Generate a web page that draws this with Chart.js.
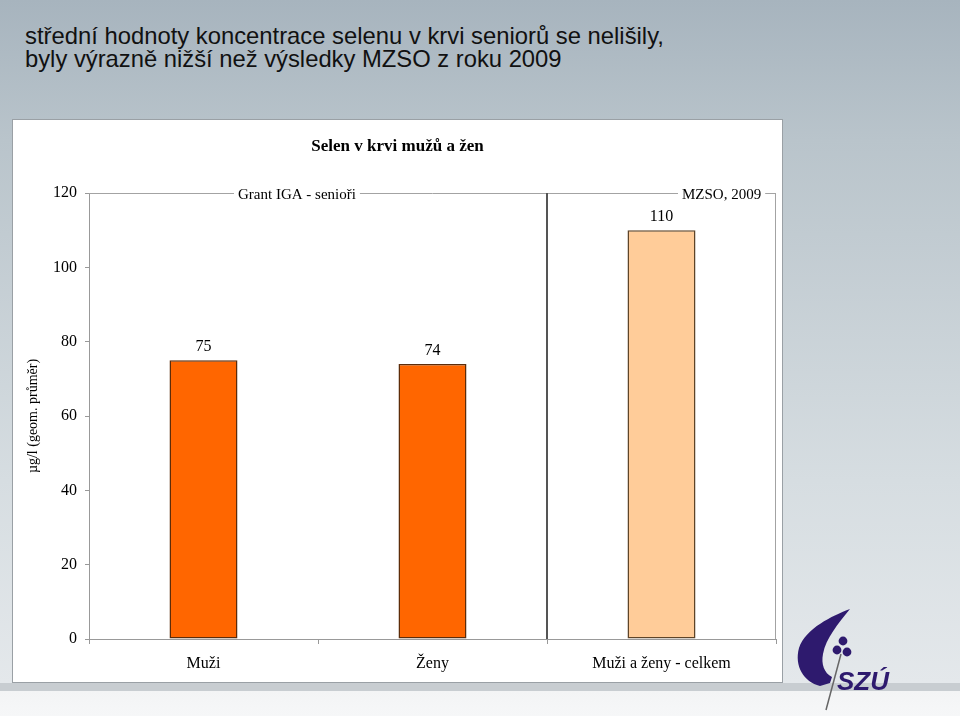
<!DOCTYPE html>
<html lang="cs">
<head>
<meta charset="UTF-8">
<title>Selen v krvi mužů a žen</title>
<script src="https://cdn.jsdelivr.net/npm/chart.js"></script>
<style>
  html, body { margin: 0; padding: 0; }
  body {
    width: 960px; height: 716px; position: relative; overflow: hidden;
    background: linear-gradient(to bottom, #a7b4be 0px, #b9c4cb 140px, #d6dde1 480px, #e4e8eb 683px, #c8cdd1 683px, #c8cdd1 691px, #f3f4f5 691px, #f6f7f8 716px);
  }
  .headline {
    position: absolute; left: 25px; font-family: "Liberation Sans", Arial, sans-serif;
    font-size: 24px; color: #111; white-space: nowrap; transform-origin: 0 50%; line-height: 26px;
  }
  #panel {
    position: absolute; left: 12px; top: 119px; width: 769px; height: 562px;
    background: #fff; border: 1px solid #9aa0a5;
  }
  #chartWrap { position: absolute; left: 12px; top: 119px; width: 771px; height: 564px; }
  #logo { position: absolute; left: 780px; top: 580px; }
</style>
</head>
<body>
  <div class="headline" id="h1" style="top:23px">střední hodnoty koncentrace selenu v krvi seniorů se nelišily,</div>
  <div class="headline" id="h2" style="top:46px">byly výrazně nižší než výsledky MZSO z roku 2009</div>

  <div id="panel"></div>
  <div id="chartWrap"><canvas id="selen" width="771" height="564"></canvas></div>

  <svg id="logo" width="180" height="136" viewBox="0 0 180 136">
    <path d="M70,29 C52,36 26,48 19,68 C14,86 24,102 40,106 L50,103 L52,97 C44,93 41,84 43,74 C46,58 58,44 70,29 Z" fill="#2e1a6e"/>
    <line x1="61" y1="74" x2="46" y2="130" stroke="#666" stroke-width="1.5"/>
    <circle cx="63" cy="61" r="4.4" fill="#2e1a6e"/>
    <circle cx="57" cy="70" r="4.4" fill="#2e1a6e"/>
    <circle cx="67" cy="72" r="4.4" fill="#2e1a6e"/>
    <text x="57" y="110" font-family="Liberation Sans, Arial" font-weight="bold" font-style="italic" font-size="26" fill="#2e1a6e">SZÚ</text>
  </svg>

<script>
// data
const categories = ['Muži', 'Ženy', 'Muži a ženy - celkem'];
const values = [75, 74, 110];
const barColors = ['#ff6600', '#ff6600', '#ffcc99'];
const barBorders = ['#5c2c0a', '#5c2c0a', '#5e4428'];
const groupLabels = ['Grant IGA - senioři', 'MZSO, 2009'];
const chartTitle = 'Selen v krvi mužů a žen';
const yTitle = 'µg/l (geom. průměr)';

// stretch headline lines to the width in the slide
function fitLine(id, w) {
    const el = document.getElementById(id);
    el.style.transform = 'scaleX(' + (w / el.offsetWidth) + ')';
}
fitLine('h1', 639);
fitLine('h2', 537);

const serif = '"Liberation Serif", "Times New Roman", serif';

// extra stuff drawn on top: frame lines, group labels, values, title
const decorations = {
    id: 'decorations',
    afterDraw(chart) {
        const ctx = chart.ctx;
        const a = chart.chartArea;
        const x = chart.scales.x;
        ctx.save();

        // top and right frame
        ctx.strokeStyle = '#a3a3a3';
        ctx.lineWidth = 1;
        ctx.beginPath();
        ctx.moveTo(a.left, a.top + 0.5);
        ctx.lineTo(a.right, a.top + 0.5);
        ctx.moveTo(a.right - 0.5, a.top);
        ctx.lineTo(a.right - 0.5, a.bottom);
        ctx.stroke();

        // group divider between Ženy and celkem
        const divX = Math.round((x.getPixelForValue(1) + x.getPixelForValue(2)) / 2);
        ctx.strokeStyle = '#555';
        ctx.lineWidth = 2;
        ctx.beginPath();
        ctx.moveTo(divX, a.top);
        ctx.lineTo(divX, a.bottom);
        ctx.stroke();

        // group labels on the top line
        ctx.font = '15px ' + serif;
        ctx.textBaseline = 'middle';
        ctx.textAlign = 'left';
        const gx = [226, 670];
        groupLabels.forEach((t, i) => {
            const w = ctx.measureText(t).width;
            ctx.fillStyle = '#fff';
            ctx.fillRect(gx[i] - 4, a.top - 8, w + 8, 16);
            ctx.fillStyle = '#000';
            ctx.fillText(t, gx[i], a.top + 2);
        });

        // value labels
        ctx.font = '16px ' + serif;
        ctx.textAlign = 'center';
        ctx.fillStyle = '#000';
        chart.getDatasetMeta(0).data.forEach((bar, i) => {
            ctx.fillText(String(values[i]), bar.x, bar.y - 13);
        });

        // chart title
        ctx.font = 'bold 17px ' + serif;
        ctx.fillText(chartTitle, chart.width / 2, 28);
        ctx.restore();
    }
};

new Chart(document.getElementById('selen'), {
    type: 'bar',
    data: {
        labels: categories,
        datasets: [{
            data: values,
            backgroundColor: barColors,
            borderColor: barBorders,
            borderWidth: 1.5,
            borderSkipped: false,
            categoryPercentage: 1,
            barPercentage: 0.297
        }]
    },
    options: {
        responsive: false,
        animation: false,
        layout: { padding: { top: 74, right: 7, left: 0, bottom: 0 } },
        plugins: {
            legend: { display: false },
            title: { display: false },
            tooltip: { enabled: false }
        },
        scales: {
            x: {
                afterFit(s) { s.height = 44; },
                grid: { drawOnChartArea: false, tickLength: 5, color: '#999' },
                border: { color: '#999' },
                ticks: { color: '#000', font: { family: serif, size: 16 }, padding: 10 }
            },
            y: {
                min: 0,
                max: 120,
                afterFit(s) { s.width = 77; },
                grid: { drawOnChartArea: false, tickLength: 4, color: '#999' },
                border: { color: '#999' },
                ticks: { stepSize: 20, color: '#000', font: { family: serif, size: 16 }, padding: 8 },
                title: {
                    display: true,
                    text: yTitle,
                    color: '#000',
                    font: { family: serif, size: 14 },
                    padding: { top: 13, bottom: 0 }
                }
            }
        }
    },
    plugins: [decorations]
});
</script>
</body>
</html>
